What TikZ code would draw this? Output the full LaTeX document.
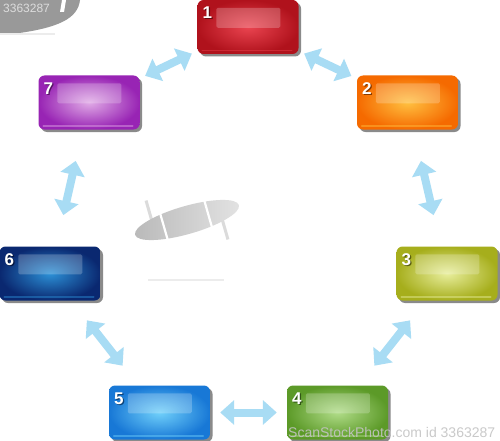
\documentclass[tikz,border=0pt]{standalone}
\usepackage{fontspec}
\setsansfont{Liberation Sans}
\usetikzlibrary{arrows.meta}
\definecolor{arrowblue}{HTML}{A8DCF4}
\definecolor{shadowgray}{HTML}{8A8A8A}
\definecolor{rIn}{HTML}{EA4450}\definecolor{rOut}{HTML}{B0121C}
\definecolor{oIn}{HTML}{FFC040}\definecolor{oOut}{HTML}{F56A00}
\definecolor{yIn}{HTML}{E8EE9C}\definecolor{yOut}{HTML}{A6AE1C}
\definecolor{gIn}{HTML}{B0DC88}\definecolor{gOut}{HTML}{5C9A28}
\definecolor{bIn}{HTML}{70D0FA}\definecolor{bOut}{HTML}{1878D6}
\definecolor{nIn}{HTML}{2C90D6}\definecolor{nOut}{HTML}{0A2870}
\definecolor{pIn}{HTML}{E0AAE6}\definecolor{pOut}{HTML}{9824B4}
\definecolor{wmgray}{HTML}{C4C4C4}
\definecolor{wmlight}{HTML}{DCDCDC}
\newcommand\mybox[6]{%
  \node[shadowbox] (#1s) at ({#2+2.5},{#3+2.5}) {};
  \node[stepbox, inner color=#4, outer color=#5] (#1) at (#2,#3) {};
  \fill[white, opacity=0.22, rounded corners=1.5pt] ([shift={(19,8)}]#1.north west) rectangle ([shift={(83,28)}]#1.north west);
  \draw[#4, opacity=.45, line width=1.6pt, line cap=round] ([shift={(5,-3.5)}]#1.south west) -- ([shift={(-7,-3.5)}]#1.south east);
  \node[numshadow, text=#5!55!black] at ([shift={(11.2,14.2)}]#1.north west) {#6};
  \node[numtext] at ([shift={(10,13)}]#1.north west) {#6};
}
\begin{document}
\begin{tikzpicture}[x=1pt,y=-1pt,
  stepbox/.style={minimum width=101pt, minimum height=54pt, rounded corners=6pt, inner sep=0pt, draw=none},
  shadowbox/.style={stepbox, fill=shadowgray},
  numtext/.style={text=white, font=\sffamily\bfseries\fontsize{17}{17}\selectfont, inner sep=0pt},
  numshadow/.style={font=\sffamily\bfseries\fontsize{17}{17}\selectfont, inner sep=0pt},
  dblarrow/.style={draw=arrowblue, line width=8pt, {Triangle[length=14pt,width=24pt]}-{Triangle[length=14pt,width=24pt]}}]
\useasboundingbox (0,0) rectangle (500,441);
\fill[white] (0,0) rectangle (500,441);
% watermark top-left
\fill[gray!80] (0,0) -- (80,0) .. controls (78,18) and (60,28) .. (12,34) -- (0,34) -- cycle;
\fill[white] (62,0) -- (66,0) -- (64,12) -- (60,12) -- cycle;
\draw[gray!15, line width=1.5pt] (0,34) -- (55,34);
\node[text=wmlight, font=\sffamily\fontsize{12}{12}\selectfont, anchor=west, inner sep=0pt] (wm1) at (3,8) {3363287};
% centre object
\begin{scope}[shift={(187,220)}, rotate=16]
  \draw[gray!28, line width=3pt] (-34,-30) -- (-34,0);
  \draw[gray!28, line width=3pt] (34,30) -- (34,0);
  \shade[left color=gray!55, right color=gray!22] (0,0) ellipse [x radius=54, y radius=14];
  \draw[white, line width=2.2pt] (-24,-16) -- (-24,16);
  \draw[white, line width=2.2pt] (22,-16) -- (22,16);
\end{scope}
\draw[gray!15, line width=1.5pt] (148,280) -- (224,280);
% boxes
\mybox{b1}{248}{27}{rIn}{rOut}{1}
\mybox{b2}{407.5}{102.5}{oIn}{oOut}{2}
\mybox{b3}{447}{273.5}{yIn}{yOut}{3}
\mybox{b4}{337.5}{412.5}{gIn}{gOut}{4}
\mybox{b5}{159.5}{412.5}{bIn}{bOut}{5}
\mybox{b6}{50}{273.5}{nIn}{nOut}{6}
\mybox{b7}{89}{102.5}{pIn}{pOut}{7}
% arrows
\draw[dblarrow, shorten <=6pt, shorten >=6pt] (b7) -- (b1);
\draw[dblarrow, shorten <=6pt, shorten >=6pt] (b1) -- (b2);
\draw[dblarrow, shorten <=32pt, shorten >=32pt] (b2) -- (b3);
\draw[dblarrow, shorten <=25pt, shorten >=25pt] (b3) -- (b4);
\draw[dblarrow, shorten <=10pt, shorten >=10pt] (b4) -- (b5);
\draw[dblarrow, shorten <=25pt, shorten >=25pt] (b5) -- (b6);
\draw[dblarrow, shorten <=32pt, shorten >=32pt] (b6) -- (b7);
% watermark bottom
\node[text=wmgray, opacity=0.9, font=\sffamily\fontsize{14}{14}\selectfont, anchor=west, inner sep=0pt] (wm2) at (288,432) {ScanStockPhoto.com id 3363287};
\end{tikzpicture}
\end{document}
